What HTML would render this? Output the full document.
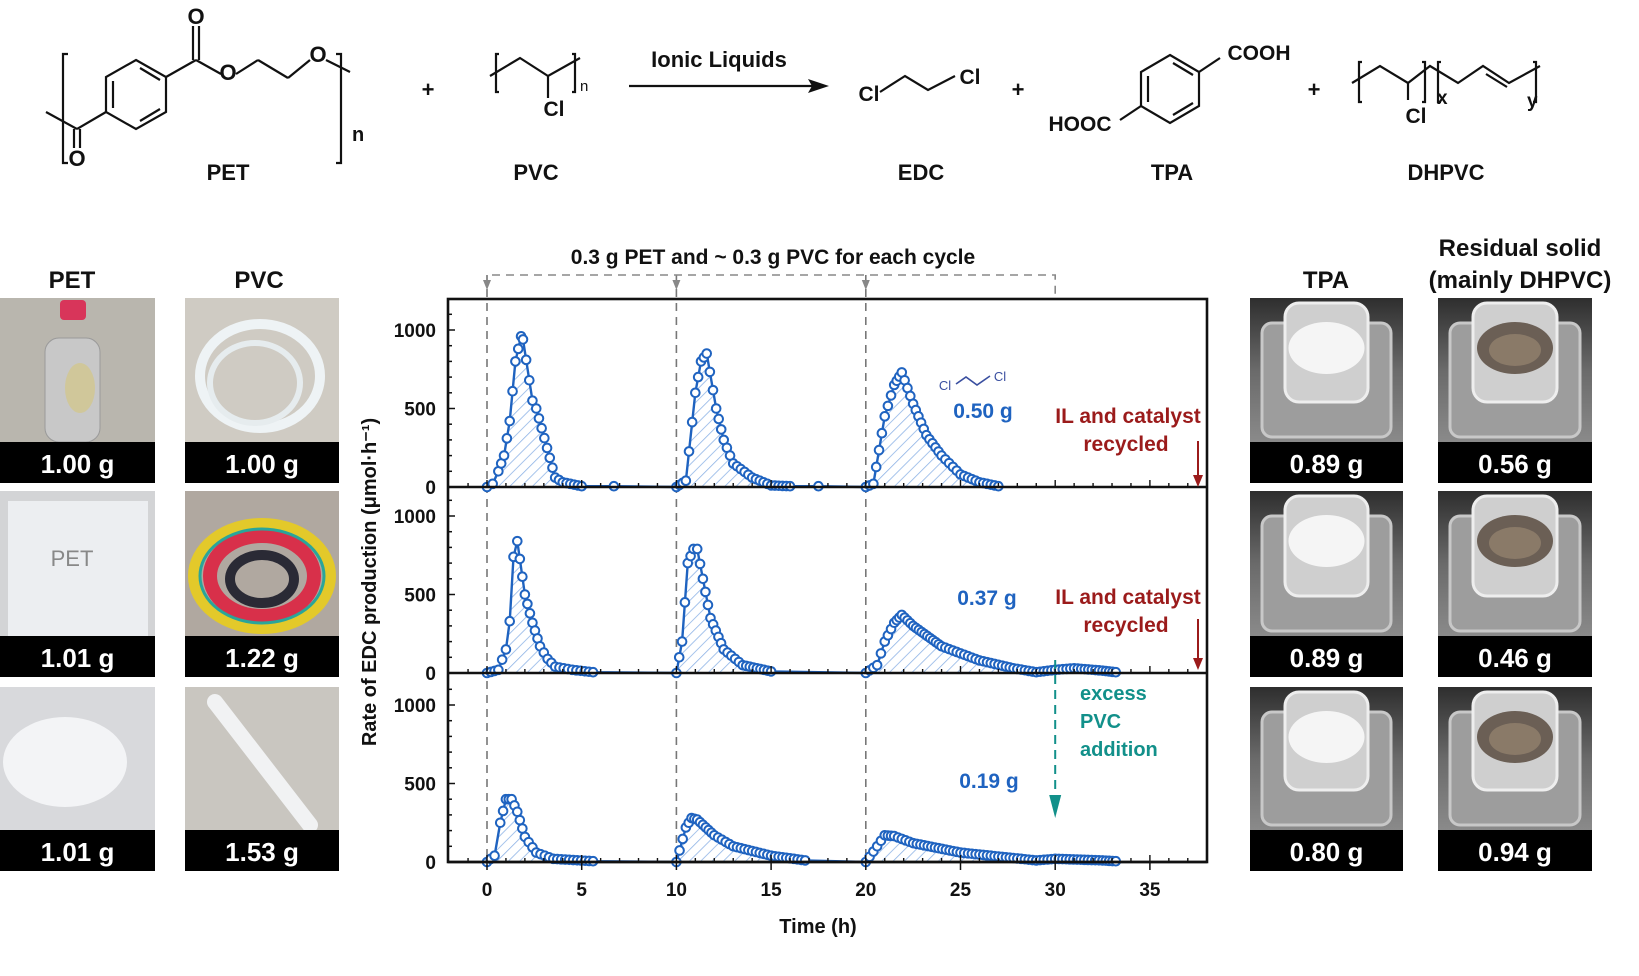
<!DOCTYPE html>
<html><head><meta charset="utf-8">
<style>
html,body{margin:0;padding:0;background:#fff;}
body{width:1639px;height:976px;overflow:hidden;position:relative;font-family:"Liberation Sans",Arial,sans-serif;}
svg{position:absolute;left:0;top:0;}
</style></head>
<body>
<svg id="s" width="1639" height="976" viewBox="0 0 1639 976" xmlns="http://www.w3.org/2000/svg" font-family="Liberation Sans, Arial, sans-serif">
<defs>
<pattern id="hatch" patternUnits="userSpaceOnUse" width="8" height="8" patternTransform="rotate(45)">
<rect width="8" height="8" fill="#fff" fill-opacity="0"/>
<line x1="0" y1="0" x2="0" y2="8" stroke="#8fb4e6" stroke-width="1.6"/>
</pattern>
<linearGradient id="scale" x1="0" y1="0" x2="0" y2="1"><stop offset="0" stop-color="#2e2e2e"/><stop offset="0.5" stop-color="#6a6a6a"/><stop offset="1" stop-color="#8a8a8a"/></linearGradient>
</defs>

<!-- ===== Scheme ===== -->
<g stroke="#111" stroke-width="2.2" fill="none">
<!-- PET -->
<path d="M68,54 L63,54 L63,163 L68,163"/>
<path d="M336,54 L341,54 L341,163 L336,163"/>
<polygon points="136,60 166,77 166,112 136,129 106,112 106,77"/>
<line x1="113" y1="81" x2="113" y2="108"/><line x1="140" y1="68" x2="160" y2="80"/><line x1="140" y1="121" x2="160" y2="109"/>
<line x1="166" y1="77" x2="196" y2="60"/><line x1="193" y1="60" x2="193" y2="26"/><line x1="199" y1="60" x2="199" y2="26"/>
<line x1="196" y1="60" x2="221" y2="74"/><line x1="236" y1="74" x2="258" y2="60"/><line x1="258" y1="60" x2="288" y2="78"/><line x1="288" y1="78" x2="310" y2="60"/>
<line x1="326" y1="60" x2="350" y2="72"/>
<line x1="106" y1="112" x2="77" y2="129"/><line x1="77" y1="129" x2="46" y2="112"/><line x1="74" y1="129" x2="74" y2="148"/><line x1="80" y1="129" x2="80" y2="148"/>
<!-- PVC -->
<path d="M499,54 L496,54 L496,92 L499,92"/><path d="M572,54 L575,54 L575,92 L572,92"/>
<polyline points="490,76 520,58 548,76 580,58"/><line x1="548" y1="76" x2="548" y2="98"/>
<!-- EDC -->
<polyline points="880,92 905,76 928,90 955,76"/>
<!-- TPA -->
<polygon points="1170,55 1199,72 1199,106 1170,123 1141,106 1141,72"/>
<line x1="1148" y1="76" x2="1148" y2="102"/><line x1="1173" y1="63" x2="1193" y2="75"/><line x1="1173" y1="115" x2="1193" y2="103"/>
<line x1="1199" y1="72" x2="1220" y2="58"/><line x1="1141" y1="106" x2="1120" y2="120"/>
<!-- DHPVC -->
<path d="M1362,62 L1359,62 L1359,102 L1362,102"/><path d="M1422,62 L1425,62 L1425,102 L1422,102"/>
<path d="M1441,62 L1438,62 L1438,102 L1441,102"/><path d="M1533,62 L1536,62 L1536,102 L1533,102"/>
<polyline points="1352,83 1380,66 1408,83 1430,66 1458,83 1483,66 1509,83 1540,66"/>
<line x1="1408" y1="83" x2="1408" y2="100"/><line x1="1486" y1="74" x2="1507" y2="87" />
</g>
<g font-weight="bold" font-size="22" fill="#111">
<text x="196" y="24" text-anchor="middle">O</text>
<text x="228" y="80" text-anchor="middle">O</text>
<text x="318" y="62" text-anchor="middle">O</text>
<text x="77" y="166" text-anchor="middle">O</text>
<text x="352" y="141" font-size="20">n</text>
<text x="428" y="97" text-anchor="middle" font-size="22">+</text>
<text x="554" y="116" text-anchor="middle" font-size="21">Cl</text>
<text x="580" y="91" font-size="15" font-weight="normal">n</text>
<text x="719" y="67" text-anchor="middle" font-size="22">Ionic Liquids</text>
<text x="869" y="101" text-anchor="middle" font-size="21">Cl</text>
<text x="970" y="84" text-anchor="middle" font-size="21">Cl</text>
<text x="1018" y="97" text-anchor="middle">+</text>
<text x="1259" y="60" text-anchor="middle" font-size="21">COOH</text>
<text x="1080" y="131" text-anchor="middle" font-size="21">HOOC</text>
<text x="1314" y="97" text-anchor="middle">+</text>
<text x="1416" y="123" text-anchor="middle" font-size="21">Cl</text>
<text x="1437" y="104" font-size="19">x</text>
<text x="1527" y="107" font-size="19">y</text>
<text x="228" y="180" text-anchor="middle" font-size="22">PET</text>
<text x="536" y="180" text-anchor="middle" font-size="22">PVC</text>
<text x="921" y="180" text-anchor="middle" font-size="22">EDC</text>
<text x="1172" y="180" text-anchor="middle" font-size="22">TPA</text>
<text x="1446" y="180" text-anchor="middle" font-size="22">DHPVC</text>
</g>
<line x1="629" y1="86" x2="815" y2="86" stroke="#111" stroke-width="2.2"/>
<polygon points="829,86 808,79 812,86 808,93" fill="#111"/>

<!-- ===== Photo headers ===== -->
<g font-weight="bold" font-size="24" fill="#111" text-anchor="middle">
<text x="72" y="288">PET</text>
<text x="259" y="288">PVC</text>
<text x="1326" y="288">TPA</text>
<text x="1520" y="256">Residual solid</text>
<text x="1520" y="288">(mainly DHPVC)</text>
</g>
<g id="photos"></g>

<g id="plot"></g>
</svg>
<script>
var NS="http://www.w3.org/2000/svg";
function el(tag,attrs,parent,txt){var e=document.createElementNS(NS,tag);for(var k in attrs)e.setAttribute(k,attrs[k]);if(txt!==undefined)e.textContent=txt;(parent||document.getElementById('s')).appendChild(e);return e;}
// photos
var ph=document.getElementById('photos');
var cols=[[0,155],[185,339],[1250,1403],[1438,1592]];
var rows=[[298,483],[491,677],[687,871]];
var labels=[["1.00 g","1.00 g","0.89 g","0.56 g"],["1.01 g","1.22 g","0.89 g","0.46 g"],["1.01 g","1.53 g","0.80 g","0.94 g"]];
var bgs=[["#b9b6ae","#cfcbc3"],["#d3d4d6","#b0a8a0"],["#d8d9dc","#c9c6c0"]];
for(var r=0;r<3;r++){for(var c=0;c<4;c++){
 var x0=cols[c][0],w=cols[c][1]-cols[c][0],y0=rows[r][0],h=rows[r][1]-rows[r][0];
 var ih=h-41;
 if(c<2){
  el('rect',{x:x0,y:y0,width:w,height:ih,fill:bgs[r][c]},ph);
  if(r==0&&c==0){el('rect',{x:x0+45,y:y0+40,width:55,height:ih-40,rx:14,fill:"#c8c8c8",stroke:"#9a9a9a"},ph);el('rect',{x:x0+60,y:y0+2,width:26,height:20,rx:4,fill:"#d8355a"},ph);el('ellipse',{cx:x0+80,cy:y0+90,rx:15,ry:25,fill:"#d0c79a"},ph);}
  if(r==0&&c==1){el('ellipse',{cx:x0+75,cy:y0+78,rx:60,ry:52,fill:"none",stroke:"#eef3f5",'stroke-width':10},ph);el('ellipse',{cx:x0+70,cy:y0+85,rx:45,ry:40,fill:"none",stroke:"#e6ecee",'stroke-width':6},ph);}
  if(r==1&&c==0){el('rect',{x:x0+8,y:y0+10,width:140,height:ih-10,fill:"#eceef1"},ph);el('text',{x:x0+72,y:y0+75,'font-size':22,fill:"#888",'text-anchor':'middle'},ph,"PET");}
  if(r==1&&c==1){el('ellipse',{cx:x0+77,cy:y0+85,rx:68,ry:52,fill:"none",stroke:"#e3c92a",'stroke-width':12},ph);el('ellipse',{cx:x0+77,cy:y0+85,rx:52,ry:40,fill:"none",stroke:"#d8304a",'stroke-width':14},ph);el('ellipse',{cx:x0+77,cy:y0+88,rx:32,ry:24,fill:"none",stroke:"#2a2a35",'stroke-width':10},ph);el('ellipse',{cx:x0+77,cy:y0+85,rx:62,ry:47,fill:"none",stroke:"#2aa59a",'stroke-width':3},ph);}
  if(r==2&&c==0){el('ellipse',{cx:x0+65,cy:y0+75,rx:62,ry:45,fill:"#f3f4f6"},ph);}
  if(r==2&&c==1){el('line',{x1:x0+30,y1:y0+15,x2:x0+125,y2:y0+ih-5,stroke:"#f1f2f3",'stroke-width':16,'stroke-linecap':'round'},ph);}
 } else {
  el('rect',{x:x0,y:y0,width:w,height:ih,fill:"url(#scale)"},ph);
  el('rect',{x:x0+12,y:y0+25,width:w-24,height:ih-30,rx:10,fill:"#9d9d9d",stroke:"#c8c8c8",'stroke-width':3},ph);
  el('rect',{x:x0+35,y:y0+5,width:w-70,height:ih-45,rx:14,fill:"#cfcfcf",stroke:"#eeeeee",'stroke-width':3},ph);
  var fillc=(c==2)?"#f5f5f5":"#6b5f55";
  el('ellipse',{cx:x0+w/2,cy:y0+50,rx:38,ry:26,fill:fillc},ph);
  if(c==3)el('ellipse',{cx:x0+w/2,cy:y0+52,rx:26,ry:16,fill:"#8a7a68"},ph);
 }
 el('rect',{x:x0,y:y0+ih,width:w,height:41,fill:"#000"},ph);
 el('text',{x:x0+w/2,y:y0+ih+31,'font-size':26,'font-weight':'bold',fill:"#fff",'text-anchor':'middle'},ph,labels[r][c]);
}}
// plot
var P=document.getElementById('plot');
var L=448,R=1207,T=299;
var bases=[487,673,862];
function X(t){return 487+t*18.94;}
function Y(p,v){return bases[p]-v*0.157;}
var data=[
 [[[0,0],[0.3,20],[0.6,100],[0.9,200],[1.2,420],[1.5,800],[1.8,960],[1.9,940],[2.4,550],[2.6,500],[3.6,60],[4,30],[5,5],[6.7,5]],
  [[10,0],[10.5,40],[11.0,600],[11.3,800],[11.6,850],[12.1,500],[12.5,300],[13,150],[14,60],[15,10],[16,5],[17.5,5]],
  [[20,0],[20.4,20],[21,450],[21.5,650],[21.9,730],[22.5,530],[23.2,330],[24,200],[25,80],[26,30],[27,5]]],
 [[[0,0],[0.6,20],[1.0,150],[1.2,330],[1.4,740],[1.6,840],[2.0,500],[2.4,320],[2.8,170],[3.2,90],[3.6,40],[4.5,20],[5.6,5]],
  [[10,0],[10.3,200],[10.6,700],[10.9,790],[11.1,790],[11.4,600],[11.8,350],[12.5,150],[13.5,50],[15,10]],
  [[20,0],[20.6,50],[21,200],[21.5,320],[21.9,370],[22.5,300],[24,170],[26,80],[27.8,30],[29,5],[30,20],[31,30],[32.5,15],[33.2,5]]],
 [[[0,0],[0.4,40],[0.7,250],[1.0,400],[1.3,400],[1.6,320],[2,160],[2.6,60],[3.5,20],[5.6,5]],
  [[10,0],[10.5,220],[10.8,280],[11.1,270],[12,170],[13,100],[15,40],[16.8,10]],
  [[20,0],[20.6,100],[21,170],[21.5,165],[22.5,120],[25,60],[29,10],[30,20],[32.5,10],[33.2,5]]]
];
var blue="#1f63c0";
// dashed cycle lines
[0,10,20].forEach(function(t){el('line',{x1:X(t),y1:275,x2:X(t),y2:862,stroke:"#777",'stroke-width':1.6,'stroke-dasharray':'8,6'},P);});
el('polyline',{points:X(0)+",284 "+X(0)+",275 "+X(30)+",275 "+X(30)+",299",fill:"none",stroke:"#888",'stroke-width':1.6,'stroke-dasharray':'8,6'},P);
[0,10,20].forEach(function(t){el('polygon',{points:(X(t)-4)+",280 "+(X(t)+4)+",280 "+X(t)+",290",fill:"#888"},P);});
for(var p=0;p<3;p++){
 data[p].forEach(function(cyc){
  var pts=cyc.map(function(d){return X(d[0])+","+Y(p,d[1]);}).join(" ");
  el('polygon',{points:pts+" "+X(cyc[cyc.length-1][0])+","+bases[p]+" "+X(cyc[0][0])+","+bases[p],fill:"url(#hatch)"},P);
 });
 // connecting line
 var all=[];data[p].forEach(function(c){all=all.concat(c);});
 el('polyline',{points:all.map(function(d){return X(d[0])+","+Y(p,d[1]);}).join(" "),fill:"none",stroke:blue,'stroke-width':2.4},P);
 // markers
 data[p].forEach(function(cyc){
  for(var i=0;i<cyc.length-1;i++){
   var a=cyc[i],b=cyc[i+1];var dt=b[0]-a[0];var step=(a[1]>250||b[1]>250)?0.15:0.2;
   var n=Math.max(1,Math.round(dt/step));
   if(dt>1.2&&a[1]<10&&b[1]<10)n=1;
   for(var k=0;k<n;k++){var f=k/n;el('circle',{cx:X(a[0]+f*dt),cy:Y(p,a[1]+f*(b[1]-a[1])),r:4.3,fill:"#fff",stroke:blue,'stroke-width':2},P);}
  }
  var e=cyc[cyc.length-1];el('circle',{cx:X(e[0]),cy:Y(p,e[1]),r:4.3,fill:"#fff",stroke:blue,'stroke-width':2},P);
 });
 // y ticks
 for(var v=0;v<=1200;v+=100){var yy=Y(p,v);if(yy<bases[p]-188)continue;var major=(v%500==0);
  el('line',{x1:L,y1:yy,x2:L+(major?7:4),y2:yy,stroke:"#111",'stroke-width':1.5},P);
  if(major)el('text',{x:L-12,y:yy+7,'font-size':19,'font-weight':'bold','text-anchor':'end',fill:"#111"},P,String(v));}
 // x ticks at bottom of each panel
 for(var t=-1;t<=38;t+=1){var xx=X(t);if(xx<L||xx>R)continue;var mj=(t%5==0);
  el('line',{x1:xx,y1:bases[p],x2:xx,y2:bases[p]-(mj?7:4),stroke:"#111",'stroke-width':1.4},P);
  if(p>0||true){}
 }
 el('line',{x1:L,y1:bases[p],x2:R,y2:bases[p],stroke:"#111",'stroke-width':2.6},P);
}
// x tick labels
for(var t=0;t<=35;t+=5){el('line',{x1:X(t),y1:862,x2:X(t),y2:870,stroke:"#111",'stroke-width':1.5},P);
 el('text',{x:X(t),y:896,'font-size':19,'font-weight':'bold','text-anchor':'middle',fill:"#111"},P,String(t));}
el('rect',{x:L,y:T,width:R-L,height:862-T,fill:"none",stroke:"#111",'stroke-width':2.6},P);
el('text',{x:818,y:933,'font-size':20,'font-weight':'bold','text-anchor':'middle',fill:"#111"},P,"Time (h)");
el('text',{x:0,y:0,'font-size':20,'font-weight':'bold','text-anchor':'middle',fill:"#111",transform:"translate(376,582) rotate(-90)"},P,"Rate of EDC production (μmol·h⁻¹)");
el('text',{x:773,y:264,'font-size':21,'font-weight':'bold','text-anchor':'middle',fill:"#111"},P,"0.3 g PET and ~ 0.3 g PVC for each cycle");
// annotations
function tx(x,y,s,col,anchor,fs){el('text',{x:x,y:y,'font-size':fs||21,'font-weight':'bold','text-anchor':anchor||'middle',fill:col},P,s);}
tx(983,418,"0.50 g",blue);tx(987,605,"0.37 g",blue);tx(989,788,"0.19 g",blue);
var red="#9b1b1b";
tx(1128,423,"IL and catalyst",red);tx(1126,451,"recycled",red);
tx(1128,604,"IL and catalyst",red);tx(1126,632,"recycled",red);
[[441,487],[619,670]].forEach(function(a){el('line',{x1:1198,y1:a[0],x2:1198,y2:a[1]-10,stroke:red,'stroke-width':2},P);el('polygon',{points:"1193,"+(a[1]-12)+" 1203,"+(a[1]-12)+" 1198,"+a[1],fill:red},P);});
var teal="#12908a";
el('line',{x1:X(30),y1:660,x2:X(30),y2:800,stroke:teal,'stroke-width':2,'stroke-dasharray':'9,6'},P);
el('polygon',{points:(X(30)-6)+",795 "+(X(30)+6)+",795 "+X(30)+",818",fill:teal},P);
tx(1080,700,"excess",teal,"start",20);tx(1080,728,"PVC",teal,"start",20);tx(1080,756,"addition",teal,"start",20);
// small EDC structure
el('polyline',{points:"956,384 966,377 977,385 990,376",fill:"none",stroke:"#3a4fa0",'stroke-width':1.6},P);
el('text',{x:945,y:390,'font-size':13,fill:"#3a4fa0",'text-anchor':'middle'},P,"Cl");
el('text',{x:1000,y:381,'font-size':13,fill:"#3a4fa0",'text-anchor':'middle'},P,"Cl");
</script>
</body></html>
